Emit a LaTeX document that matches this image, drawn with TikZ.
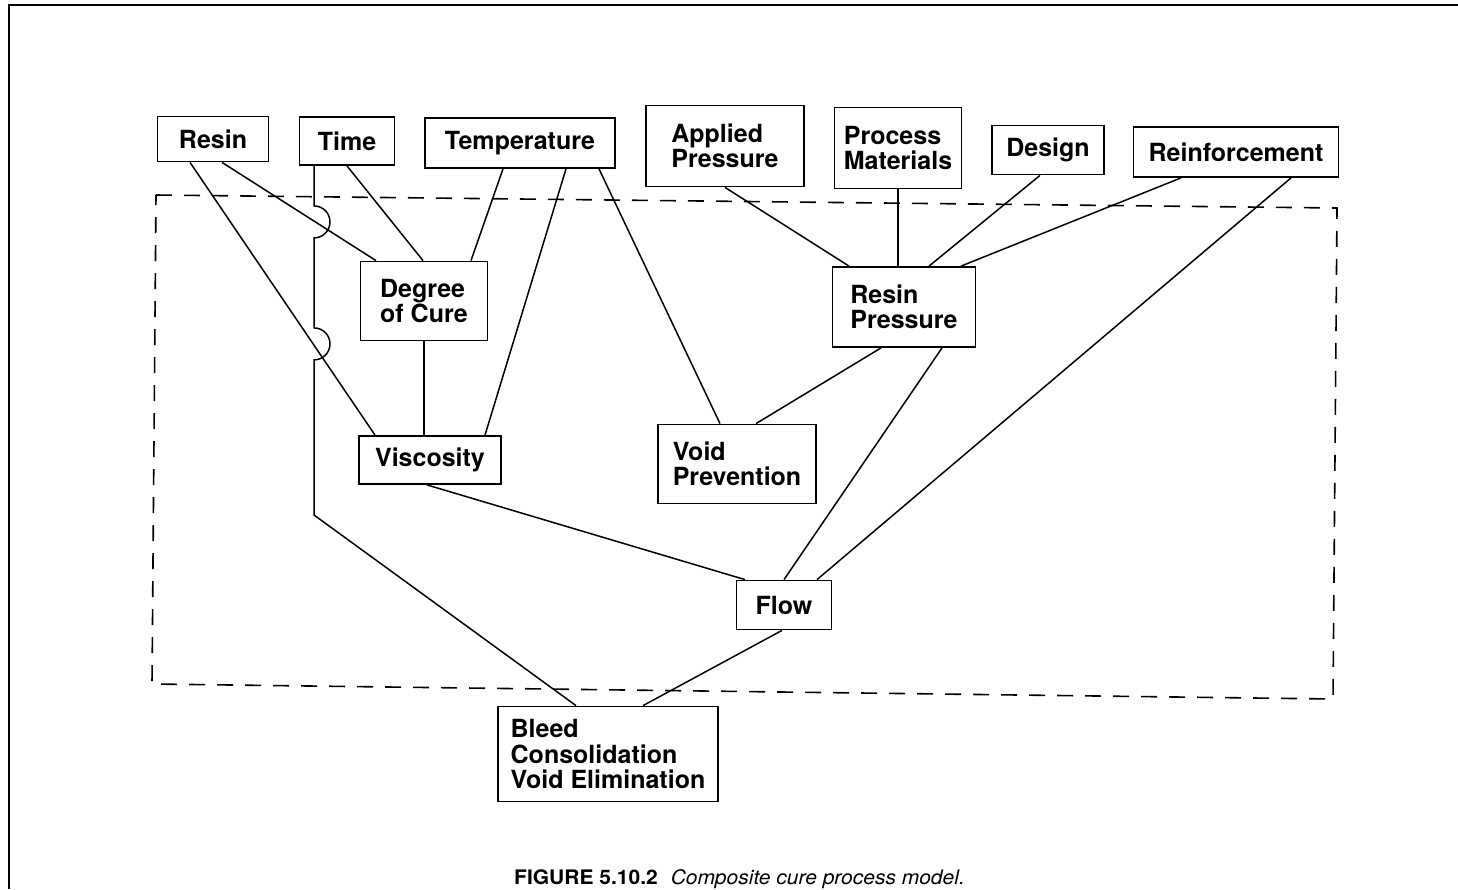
\documentclass[tikz,border=0pt]{standalone}
\usepackage{fontspec}
\setmainfont{TeX Gyre Heros}

\begin{document}
\begin{tikzpicture}[x=1pt,y=-1pt,
    box/.style={draw,line width=1.8pt,font=\fontsize{25}{25.5}\selectfont\bfseries,align=left,inner sep=0pt},
    link/.style={line width=1.5pt},
    zone/.style={line width=1.6pt,dash pattern=on 16pt off 12pt}]
  \useasboundingbox (0,0) rectangle (1458,889);
  \draw[line width=1.6pt] (9,889) -- (9,5) -- (1458,5);

  % inputs
  \node[box,minimum width=111pt,minimum height=45pt] (resin) at (213,139) {Resin};
  \node[box,minimum width=95pt,minimum height=48pt] (time) at (347,141) {Time};
  \node[box,minimum width=190pt,minimum height=50pt] (temp) at (520,143) {Temperature};
  \node[box,minimum width=158pt,minimum height=81pt] (applied) at (725,146) {Applied\\Pressure};
  \node[box,minimum width=127pt,minimum height=81pt] (procmat) at (898,148) {Process\\Materials};
  \node[box,minimum width=112pt,minimum height=49pt] (design) at (1048,150) {Design};
  \node[box,minimum width=205pt,minimum height=50pt] (reinf) at (1236,152) {Reinforcement};

  % inside the model
  \node[box,minimum width=127pt,minimum height=79pt] (doc) at (424,301) {Degree\\of Cure};
  \node[box,minimum width=143pt,minimum height=80pt] (respr) at (904,307) {Resin\\Pressure};
  \node[box,minimum width=142pt,minimum height=48pt] (visc) at (430,460) {Viscosity};
  \node[box,minimum width=158pt,minimum height=79pt] (voidp) at (737,464) {Void\\Prevention};
  \node[box,minimum width=95pt,minimum height=49pt] (flow) at (784,605) {Flow};

  % output
  \node[box,minimum width=220pt,minimum height=95pt] (bleed) at (608,754) {Bleed\\Consolidation\\Void Elimination};

  \draw[zone] (156,195) -- (1337,208) -- (1333,699) -- (152,684) -- cycle;

  \draw[link] ([xshift=9pt]resin.south) -- ([xshift=-48pt]doc.north);
  \draw[link] ([xshift=-23pt]resin.south) -- ([xshift=-55pt]visc.north);
  \draw[link] (time.south) -- ([xshift=-1pt]doc.north);
  \coordinate (bend) at (314,515);
  \draw[link] ([xshift=-33pt]time.south) -- ++(0,40)
    arc[start angle=90,end angle=-90,radius=16pt] -- ++(0,90)
    arc[start angle=90,end angle=-90,radius=16pt] -- (bend)
    -- ([xshift=-32pt]bleed.north);
  \draw[link] ([xshift=-17pt]temp.south) -- ([xshift=47pt]doc.north);
  \draw[link] ([xshift=46pt]temp.south) -- ([xshift=55pt]visc.north);
  \draw[link] ([xshift=79pt]temp.south) -- ([xshift=-17pt]voidp.north);
  \draw[link] (doc.south) -- (doc.south |- visc.north);
  \draw[link] ([xshift=-3pt]visc.south) -- ([xshift=-39pt]flow.north);
  \draw[link] (applied.south) -- ([xshift=-55pt]respr.north);
  \draw[link] (procmat.south) -- (procmat.south |- respr.north);
  \draw[link] ([xshift=-8pt]design.south) -- ([xshift=25pt]respr.north);
  \draw[link] ([xshift=-55pt]reinf.south) -- ([xshift=57pt]respr.north);
  \draw[link] ([xshift=55pt]reinf.south) -- ([xshift=33pt]flow.north);
  \draw[link] ([xshift=-23pt]respr.south) -- ([xshift=19pt]voidp.north);
  \draw[link] ([xshift=38pt]respr.south) -- (flow.north);
  \draw[link] ([xshift=-2pt]flow.south) -- ([xshift=35pt]bleed.north);

  \node[anchor=base west,inner sep=0pt,font=\fontsize{20}{22}\selectfont] (caption) at (514,884)
    {\scalebox{1.05}[1]{\bfseries FIGURE 5.10.2}\hspace{13pt}\scalebox{1.05}[1]{\itshape Composite cure process model.}};
\end{tikzpicture}
\end{document}
